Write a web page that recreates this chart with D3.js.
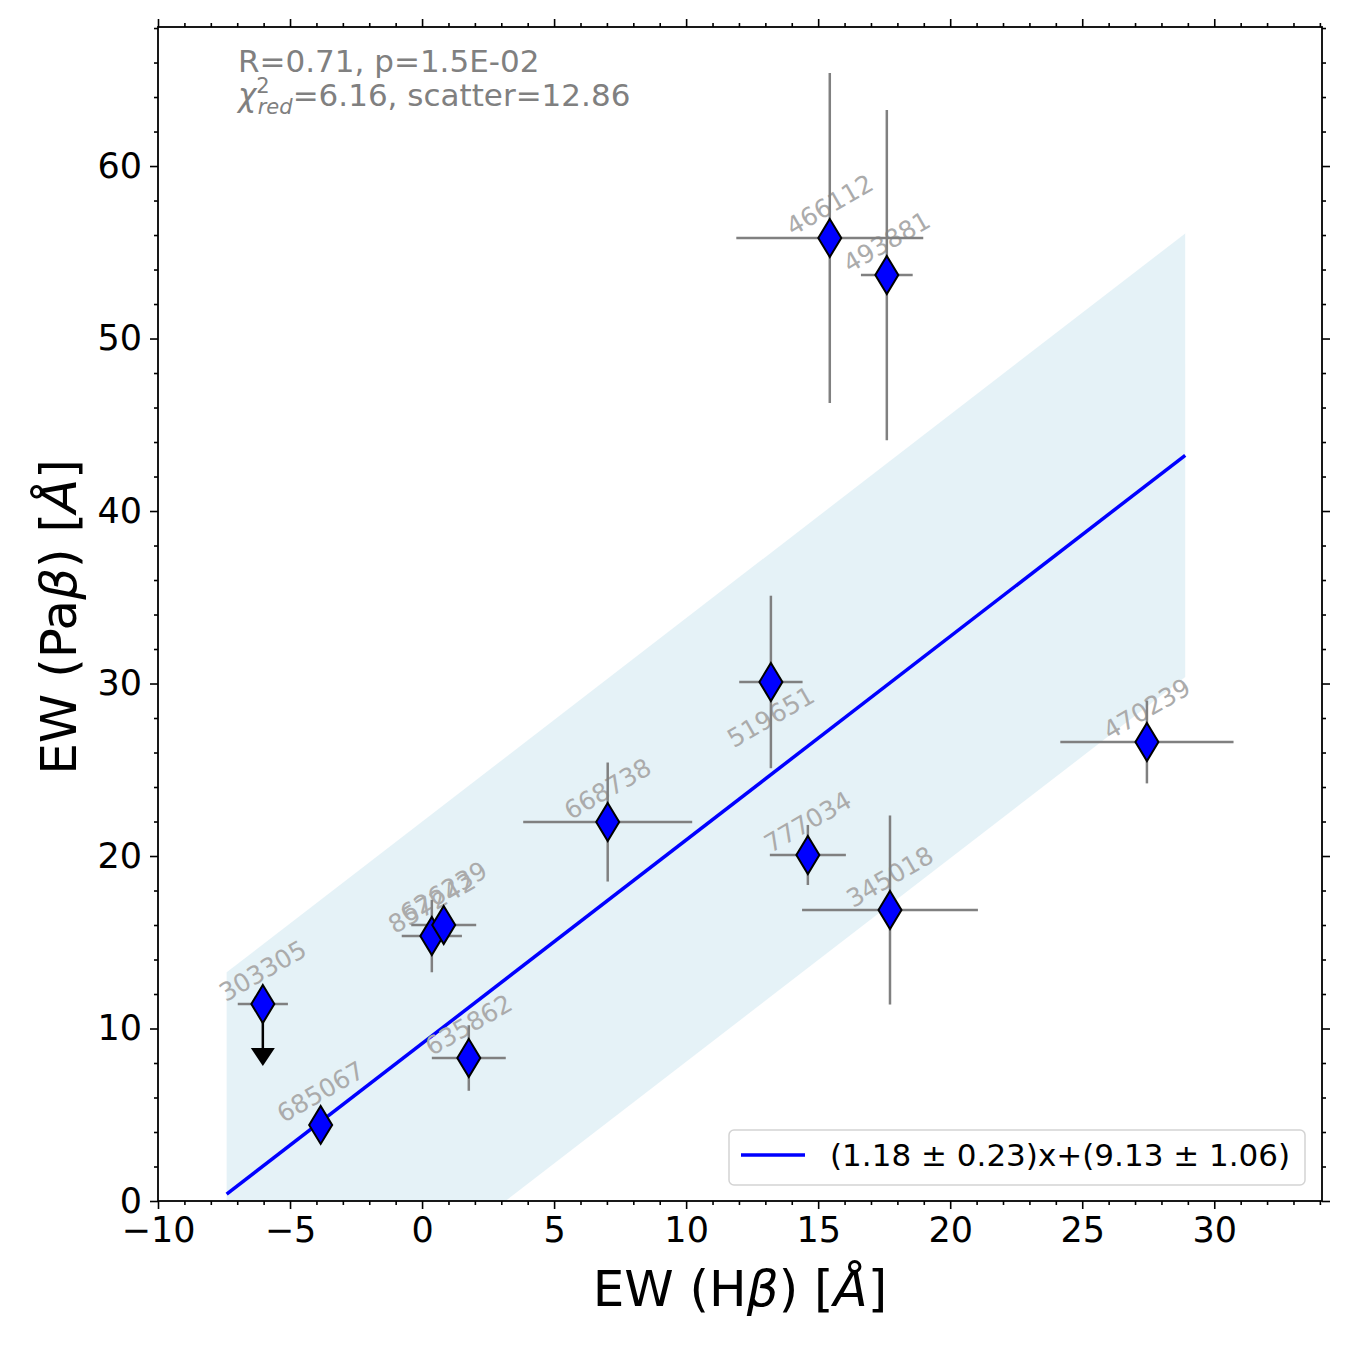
<!DOCTYPE html>
<html>
<head>
<meta charset="utf-8">
<script src="https://cdn.jsdelivr.net/npm/d3@7"></script>
<style>
  body { margin: 0; background: #fff; }
  svg text { font-family: "DejaVu Sans", sans-serif; }
  .axis path, .axis line { stroke: #000; stroke-width: 1.6; }
  .axis text { font-size: 35px; fill: #000; }
</style>
</head>
<body>
<svg width="1350" height="1350"></svg>
<script>
// source ids, EW(Hbeta) and EW(Pabeta) with errors
var names    = ["303305", "685067", "635862", "857242", "626239", "668738", "519651", "777034", "345018", "470239", "466112", "493881"];
var ewHb     = [-6.03, -3.84, 1.77, 0.37, 0.82, 7.03, 13.21, 14.61, 17.72, 27.45, 15.44, 17.60];
var ewHbErr  = [0.95, 0.30, 1.40, 1.14, 1.23, 3.20, 1.20, 1.44, 3.33, 3.28, 3.54, 0.98];
var ewPab    = [11.42, 4.41, 8.29, 15.36, 16.00, 21.97, 30.09, 20.06, 16.87, 26.61, 55.83, 53.68];
var ewPabErr = [0, 0.80, 1.90, 2.10, 0.90, 3.45, 5.00, 1.74, 5.48, 2.40, 9.57, 9.57];
var upperLimit = [true, false, false, false, false, false, false, false, false, false, false, false];
var labelBelow = ["519651"];

// linear fit
var fitSlope = 1.18, fitIntercept = 9.13, fitScatter = 12.86;
var fitRange = [-7.4, 28.9];
var stats = { R: "0.71", p: "1.5E-02", chi2: "6.16", scatter: "12.86" };
var legendText = "(1.18 \u00b1 0.23)x+(9.13 \u00b1 1.06)";

var xTicks = [-10, -5, 0, 5, 10, 15, 20, 25, 30];
var yTicks = [0, 10, 20, 30, 40, 50, 60];

var svg = d3.select("svg");
// note: "top" is taken by window.top, so use plot* names
var plotLeft = 158, plotRight = 1322, plotTop = 27, plotBottom = 1201;

var x = d3.scaleLinear().domain([-10, 34.08]).range([plotLeft, plotRight]);
var y = d3.scaleLinear().domain([0, 68.06]).range([plotBottom, plotTop]);

svg.append("rect").attr("width", 1350).attr("height", 1350).attr("fill", "#fff");

svg.append("clipPath").attr("id", "plotclip")
	.append("rect")
	.attr("x", plotLeft).attr("y", plotTop)
	.attr("width", plotRight - plotLeft).attr("height", plotBottom - plotTop);

var plot = svg.append("g").attr("clip-path", "url(#plotclip)");

// scatter band
var fitPts = fitRange.map(function(v) { return { x: v, y: fitSlope * v + fitIntercept }; });

plot.append("path")
	.datum(fitPts)
	.attr("fill", "lightblue")
	.attr("fill-opacity", 0.32)
	.attr("d", d3.area()
		.x(function(d) { return x(d.x); })
		.y0(function(d) { return y(d.y - fitScatter); })
		.y1(function(d) { return y(d.y + fitScatter); }));

plot.append("path")
	.datum(fitPts)
	.attr("fill", "none")
	.attr("stroke", "blue")
	.attr("stroke-width", 3.5)
	.attr("d", d3.line()
		.x(function(d) { return x(d.x); })
		.y(function(d) { return y(d.y); }));

var points = names.map(function(n, i) {
	return { name: n, x: ewHb[i], xe: ewHbErr[i], y: ewPab[i], ye: ewPabErr[i], ul: upperLimit[i] };
});

// labels
plot.selectAll(".node_label")
	.data(points)
	.enter()
	.append("text")
	.attr("class", "node_label")
	.attr("text-anchor", "middle")
	.attr("dominant-baseline", "central")
	.attr("font-size", 25)
	.attr("fill", "#ababab")
	.attr("transform", function(d) {
		var dy = labelBelow.indexOf(d.name) >= 0 ? 35 : -33;
		return "translate(" + x(d.x) + "," + (y(d.y) + dy) + ") rotate(-30)";
	})
	.text(function(d) { return d.name; });

// error bars
var err = plot.append("g").attr("stroke", "#808080").attr("stroke-width", 2.5);

err.selectAll(".xerr")
	.data(points)
	.enter()
	.append("line")
	.attr("x1", function(d) { return x(d.x - d.xe); })
	.attr("x2", function(d) { return x(d.x + d.xe); })
	.attr("y1", function(d) { return y(d.y); })
	.attr("y2", function(d) { return y(d.y); });

err.selectAll(".yerr")
	.data(points.filter(function(d) { return d.ye > 0; }))
	.enter()
	.append("line")
	.attr("x1", function(d) { return x(d.x); })
	.attr("x2", function(d) { return x(d.x); })
	.attr("y1", function(d) { return y(d.y - d.ye); })
	.attr("y2", function(d) { return y(d.y + d.ye); });

// upper limit arrows
var ul = plot.selectAll(".ul")
	.data(points.filter(function(d) { return d.ul; }))
	.enter()
	.append("g");

ul.append("line")
	.attr("x1", function(d) { return x(d.x); })
	.attr("x2", function(d) { return x(d.x); })
	.attr("y1", function(d) { return y(d.y); })
	.attr("y2", function(d) { return y(d.y) + 46; })
	.attr("stroke", "#000")
	.attr("stroke-width", 2.5);

ul.append("path")
	.attr("d", function(d) {
		var cx = x(d.x), cy = y(d.y) + 44;
		return "M" + (cx - 12) + "," + cy + "L" + (cx + 12) + "," + cy + "L" + cx + "," + (cy + 18) + "Z";
	})
	.attr("fill", "#000");

// thin diamond markers
plot.selectAll(".node")
	.data(points)
	.enter()
	.append("path")
	.attr("class", "node")
	.attr("d", function(d) {
		var cx = x(d.x), cy = y(d.y), w = 11.5, h = 19;
		return "M" + cx + "," + (cy - h) + "L" + (cx + w) + "," + cy + "L" + cx + "," + (cy + h) + "L" + (cx - w) + "," + cy + "Z";
	})
	.attr("fill", "blue")
	.attr("stroke", "#000")
	.attr("stroke-width", 2);

// axes
var xMinor = d3.range(-10, 35, 1).filter(function(v) { return v % 5 !== 0; });
var yMinor = d3.range(0, 69, 2).filter(function(v) { return v % 10 !== 0; });

function addAxis(axisFn, scale, major, minor, transform, labels) {
	var g = svg.append("g").attr("class", "axis").attr("transform", transform);
	g.call(axisFn(scale).tickValues(minor).tickSize(4).tickFormat(""));
	g.select(".domain").remove();
	var g2 = svg.append("g").attr("class", "axis").attr("transform", transform);
	var a = axisFn(scale).tickValues(major).tickSize(8).tickPadding(8);
	if (!labels) a.tickFormat("");
	g2.call(a);
	g2.select(".domain").remove();
	return g2;
}

addAxis(d3.axisBottom, x, xTicks, xMinor, "translate(0," + plotBottom + ")", true);
addAxis(d3.axisTop, x, xTicks, xMinor, "translate(0," + plotTop + ")", false);
addAxis(d3.axisLeft, y, yTicks, yMinor, "translate(" + plotLeft + ",0)", true);
addAxis(d3.axisRight, y, yTicks, yMinor, "translate(" + plotRight + ",0)", false);

svg.append("rect")
	.attr("x", plotLeft).attr("y", plotTop)
	.attr("width", plotRight - plotLeft).attr("height", plotBottom - plotTop)
	.attr("fill", "none")
	.attr("stroke", "#000")
	.attr("stroke-width", 1.8);

// axis titles
var xt = svg.append("text")
	.attr("x", 740).attr("y", 1306)
	.attr("text-anchor", "middle")
	.attr("font-size", 50);
xt.append("tspan").text("EW (H");
xt.append("tspan").attr("font-style", "italic").text("\u03b2");
xt.append("tspan").text(") [");
xt.append("tspan").attr("font-style", "italic").text("\u00c5");
xt.append("tspan").text("]");

var yt = svg.append("text")
	.attr("transform", "translate(76,617) rotate(-90)")
	.attr("text-anchor", "middle")
	.attr("font-size", 50);
yt.append("tspan").text("EW (Pa");
yt.append("tspan").attr("font-style", "italic").text("\u03b2");
yt.append("tspan").text(") [");
yt.append("tspan").attr("font-style", "italic").text("\u00c5");
yt.append("tspan").text("]");

// stats text
svg.append("text")
	.attr("x", 238).attr("y", 72)
	.attr("font-size", 31)
	.attr("fill", "#808080")
	.text("R=" + stats.R + ", p=" + stats.p);

var st = svg.append("text")
	.attr("x", 238).attr("y", 106)
	.attr("font-size", 31)
	.attr("fill", "#808080");
st.append("tspan").attr("font-style", "italic").text("\u03c7");
st.append("tspan").attr("font-size", 21).attr("dy", -13).text("2");
st.append("tspan").attr("font-size", 21).attr("font-style", "italic").attr("dx", -12).attr("dy", 21).text("red");
st.append("tspan").attr("dy", -8).text("=" + stats.chi2 + ", scatter=" + stats.scatter);

// legend
var lg = svg.append("g");
lg.append("rect")
	.attr("x", 729).attr("y", 1130)
	.attr("width", 576).attr("height", 55)
	.attr("rx", 5)
	.attr("fill", "#fff")
	.attr("fill-opacity", 0.8)
	.attr("stroke", "#d3d3d3")
	.attr("stroke-width", 1.5);
lg.append("line")
	.attr("x1", 741).attr("x2", 805)
	.attr("y1", 1155).attr("y2", 1155)
	.attr("stroke", "blue")
	.attr("stroke-width", 3.5);
lg.append("text")
	.attr("x", 830).attr("y", 1166)
	.attr("font-size", 31)
	.attr("fill", "#000")
	.text(legendText);
</script>
</body>
</html>
